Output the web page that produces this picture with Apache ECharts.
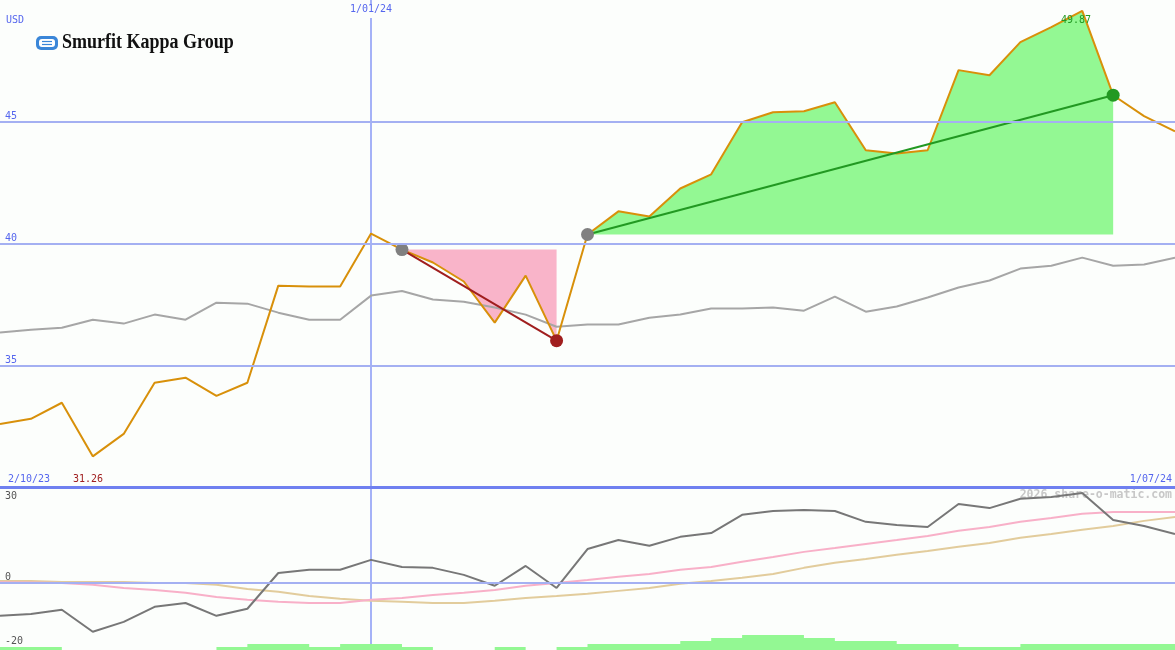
<!DOCTYPE html>
<html><head><meta charset="utf-8">
<script src="https://cdn.jsdelivr.net/npm/echarts@6/dist/echarts.min.js"></script>
<style>html,body{margin:0;padding:0;background:#fcfefc;}#c{width:1175px;height:650px;}</style>
</head><body><div id="c"></div>
<script>
const dates = ['9/10/23','16/10/23','23/10/23','30/10/23','6/11/23','13/11/23','20/11/23','27/11/23','4/12/23','11/12/23','18/12/23','25/12/23','1/01/24','8/01/24','15/01/24','22/01/24','29/01/24','5/02/24','12/02/24','19/02/24','26/02/24','4/03/24','11/03/24','18/03/24','25/03/24','1/04/24','8/04/24','15/04/24','22/04/24','29/04/24','6/05/24','13/05/24','20/05/24','27/05/24','3/06/24','10/06/24','17/06/24','24/06/24','1/07/24'];
const price = [32.59,32.80,33.46,31.26,32.18,34.28,34.49,33.74,34.28,38.27,38.23,38.23,40.41,39.75,39.22,38.44,36.75,38.68,36.01,40.37,41.32,41.11,42.26,42.84,44.98,45.39,45.43,45.80,43.83,43.70,43.83,47.12,46.91,48.27,48.89,49.55,46.09,45.23,44.61];
const benchmark = [36.34,36.46,36.54,36.87,36.71,37.08,36.87,37.57,37.53,37.16,36.87,36.87,37.86,38.05,37.70,37.61,37.37,37.08,36.58,36.67,36.67,36.95,37.08,37.33,37.33,37.37,37.24,37.82,37.20,37.41,37.78,38.19,38.48,38.97,39.09,39.42,39.09,39.14,39.42];
const momentum = [-10.3,-9.7,-8.4,-15.3,-12.2,-7.5,-6.3,-10.3,-8.1,3.1,4.1,4.1,7.2,5.0,4.7,2.5,-0.9,5.3,-1.6,10.6,13.4,11.6,14.4,15.6,21.3,22.5,22.8,22.5,19.1,18.1,17.5,24.7,23.4,26.3,26.9,28.1,19.7,17.8,15.3];
const maFast = [0.2,0.1,0.0,-0.6,-1.6,-2.2,-3.1,-4.4,-5.3,-5.9,-6.3,-6.3,-5.3,-4.7,-3.8,-3.1,-2.2,-0.9,0.0,0.9,1.9,2.8,4.1,5.0,6.6,8.1,9.7,10.9,12.2,13.4,14.7,16.3,17.5,19.1,20.3,21.6,22.2,22.2,22.2];
const maSlow = [0.6,0.6,0.3,0.3,0.3,0.0,0.0,-0.6,-1.9,-2.8,-4.1,-5.0,-5.6,-5.9,-6.3,-6.3,-5.6,-4.7,-4.1,-3.4,-2.5,-1.6,-0.3,0.6,1.6,2.8,4.7,6.3,7.5,8.8,10.0,11.3,12.5,14.1,15.3,16.6,17.8,19.4,20.6];
const volume = [1,1,0,0,0,0,0,1,2,2,1,2,2,1,0,0,1,0,1,2,2,2,3,4,5,5,4,3,3,2,2,1,1,2,2,2,2,2,2];
const priceTicks = [35,40,45];
const momentumTicksLow = [-20,0];
const momentumTicksHigh = [30];
const markerIndex = 12;
const rangeStart = '2/10/23', rangeEnd = '1/07/24';
const lowLabel = '31.26', highLabel = '49.87';
const currency = 'USD';
const company = 'Smurfit Kappa Group';
const watermark = '2026 share-o-matic.com';
const fallStart = 13, fallEnd = 18, riseStart = 19, riseEnd = 36;

const inR = (i,a,b) => i >= a && i <= b;
const fallBase = price.map((v,i) => inR(i,fallStart,fallEnd) ? v : null);
const fallFill = price.map((v,i) => inR(i,fallStart,fallEnd) ? +(price[fallStart]-v).toFixed(3) : null);
const riseBase = price.map((v,i) => inR(i,riseStart,riseEnd) ? price[riseStart] : null);
const riseFill = price.map((v,i) => inR(i,riseStart,riseEnd) ? +(v-price[riseStart]).toFixed(3) : null);
const trendPts = (a,b,endColor) => price.map((v,i) => i===a ? {value:v,itemStyle:{color:'#808080'}} : (i===b ? {value:v,itemStyle:{color:endColor}} : null));

const mono = '"DejaVu Sans Mono", monospace';
const blue = '#5566ee';
const vline = '#8899f6';
const chart = echarts.init(document.getElementById('c'));
chart.setOption({
  animation:false,
  backgroundColor:'#fcfefc',
  grid:[
    {left:0,right:0,top:0,height:487},
    {left:0,right:0,top:487,height:163},
    {left:0,right:0,top:620,height:30}
  ],
  xAxis:[
    {gridIndex:0,type:'category',data:dates,boundaryGap:false,position:'top',
     axisLine:{show:false,onZero:false},axisTick:{show:false},
     axisLabel:{inside:true,interval:(i)=>i===markerIndex,color:blue,fontFamily:mono,fontSize:10,margin:4,backgroundColor:'#fcfefc',padding:[0,0,4,0]},
     splitLine:{show:true,interval:(i)=>i===markerIndex,lineStyle:{color:vline,width:1.5}}},
    {gridIndex:1,type:'category',data:dates,boundaryGap:false,position:'top',
     axisLine:{show:true,onZero:false,lineStyle:{color:'#6f80f0',width:3}},axisTick:{show:false},axisLabel:{show:false},
     splitLine:{show:true,interval:(i)=>i===markerIndex,lineStyle:{color:vline,width:1.5}}},
    {gridIndex:2,type:'category',data:dates,boundaryGap:false,show:false}
  ],
  yAxis:[
    {gridIndex:0,type:'value',min:30,max:50,splitLine:{show:false},axisLine:{show:false},axisTick:{show:false},
     axisLabel:{inside:true,customValues:priceTicks,verticalAlign:'bottom',color:blue,fontFamily:mono,fontSize:10,margin:5}},
    {gridIndex:1,type:'value',position:'left',min:-21,max:30,splitLine:{show:false},axisLine:{show:false},axisTick:{show:false},
     axisLabel:{inside:true,customValues:momentumTicksLow,verticalAlign:'bottom',color:'#555',fontFamily:mono,fontSize:10,margin:5}},
    {gridIndex:1,type:'value',position:'left',offset:0,min:-21,max:30,splitLine:{show:false},axisLine:{show:false},axisTick:{show:false},
     axisLabel:{inside:true,customValues:momentumTicksHigh,verticalAlign:'top',color:'#555',fontFamily:mono,fontSize:10,margin:5,padding:[4,0,0,0]}},
    {gridIndex:2,type:'value',min:0,max:10,show:false}
  ],
  series:[
    {type:'line',xAxisIndex:2,yAxisIndex:3,data:volume,step:'end',symbol:'none',lineStyle:{width:0},areaStyle:{color:'#93f893',opacity:1},z:1},
    {type:'line',xAxisIndex:0,yAxisIndex:0,data:fallBase,stack:'fall',symbol:'none',lineStyle:{width:0,opacity:0},z:1},
    {type:'line',xAxisIndex:0,yAxisIndex:0,data:fallFill,stack:'fall',symbol:'none',lineStyle:{width:0,opacity:0},areaStyle:{color:'#f9b4c9',opacity:1},z:1},
    {type:'line',xAxisIndex:0,yAxisIndex:0,data:riseBase,stack:'rise',symbol:'none',lineStyle:{width:0,opacity:0},z:1},
    {type:'line',xAxisIndex:0,yAxisIndex:0,data:riseFill,stack:'rise',symbol:'none',lineStyle:{width:0,opacity:0},areaStyle:{color:'#93f893',opacity:1},z:1},
    {type:'line',xAxisIndex:0,yAxisIndex:0,data:benchmark,symbol:'none',lineStyle:{color:'#a6a6a6',width:2},z:2,
     markLine:{silent:true,symbol:'none',label:{show:false},lineStyle:{color:'#a4b0f2',width:2,type:'solid'},data:priceTicks.map(v=>({yAxis:v}))}},
    {type:'line',xAxisIndex:0,yAxisIndex:0,data:price,symbol:'none',lineStyle:{color:'#d8900a',width:2},z:3},
    {type:'line',xAxisIndex:0,yAxisIndex:0,data:trendPts(fallStart,fallEnd,'#a01e1e'),connectNulls:true,symbol:'circle',symbolSize:13,showSymbol:true,lineStyle:{color:'#a01e1e',width:2},itemStyle:{color:'#a01e1e'},z:4},
    {type:'line',xAxisIndex:0,yAxisIndex:0,data:trendPts(riseStart,riseEnd,'#229922'),connectNulls:true,symbol:'circle',symbolSize:13,showSymbol:true,lineStyle:{color:'#229922',width:2},itemStyle:{color:'#229922'},z:4},
    {type:'line',xAxisIndex:1,yAxisIndex:1,data:maSlow,symbol:'none',lineStyle:{color:'#e2cc9c',width:2},z:2,
     markLine:{silent:true,symbol:'none',label:{show:false},lineStyle:{color:'#a4b0f2',width:2,type:'solid'},data:[{yAxis:0}]}},
    {type:'line',xAxisIndex:1,yAxisIndex:1,data:maFast,symbol:'none',lineStyle:{color:'#f8b0c8',width:2},z:2},
    {type:'line',xAxisIndex:1,yAxisIndex:1,data:momentum,symbol:'none',lineStyle:{color:'#777777',width:2},z:3}
  ],
  graphic:[
    {type:'text',left:6,top:15,z:100,style:{text:currency,fill:blue,font:'10px '+mono}},
    {type:'text',left:8,top:474,z:100,style:{text:rangeStart,fill:blue,font:'10px '+mono}},
    {type:'text',left:73,top:474,z:100,style:{text:lowLabel,fill:'#a02020',font:'10px '+mono}},
    {type:'text',right:3,top:474,z:100,style:{text:rangeEnd,fill:blue,font:'10px '+mono}},
    {type:'text',left:1061,top:15,z:100,style:{text:highLabel,fill:'#229922',font:'10px '+mono}},
    {type:'text',right:3,top:489,z:0,style:{text:watermark,fill:'#c8c8c8',font:'bold 11.5px '+mono}},
    {type:'group',left:36,top:36,z:100,children:[
      {type:'rect',shape:{x:0,y:0,width:22,height:14,r:5},style:{fill:'#3a86d8'}},
      {type:'rect',shape:{x:3,y:3,width:16,height:8,r:3},style:{fill:'#ffffff'}},
      {type:'line',shape:{x1:6,y1:5.5,x2:16,y2:5.5},style:{stroke:'#3a86d8',lineWidth:1.2}},
      {type:'line',shape:{x1:6,y1:8.5,x2:16,y2:8.5},style:{stroke:'#3a86d8',lineWidth:1.2}}
    ]},
    {type:'text',left:62,top:33,z:100,scaleX:0.9,style:{text:company,fill:'#111111',font:'bold 20px "Liberation Serif", serif'}}
  ]
});
</script></body></html>
